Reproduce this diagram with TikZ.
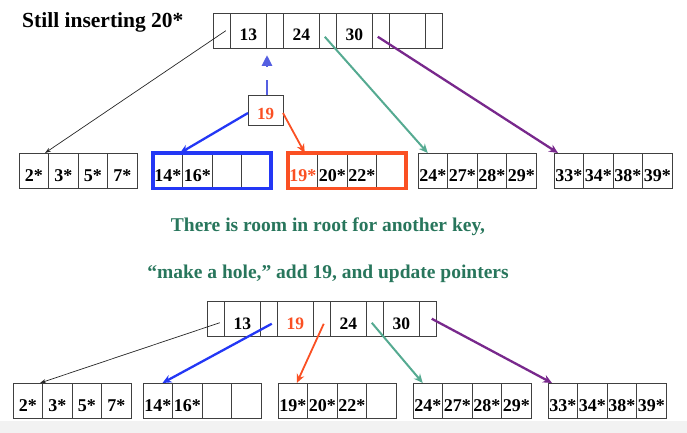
\documentclass[tikz,border=0pt]{standalone}
\usepackage{fontspec}
\setmainfont{Liberation Serif}
\usetikzlibrary{arrows.meta,calc}
\definecolor{kblue}{RGB}{35,55,245}
\definecolor{kred}{RGB}{250,80,35}
\definecolor{kgreen}{RGB}{85,170,145}
\definecolor{kpurple}{RGB}{120,40,140}
\definecolor{ktext}{RGB}{40,118,92}
\definecolor{kdash}{RGB}{85,95,225}
\tikzset{
  cell/.style={draw=black!75, line width=0.8pt, inner sep=0pt, outer sep=0pt,
    text height=28pt, text depth=7.5pt, anchor=north west,
    font=\bfseries\fontsize{18}{18}\selectfont},
  keycell/.style={cell, minimum width=35.5pt, font=\bfseries\fontsize{17.5}{17.5}\selectfont},
  ptrcell/.style={cell, minimum width=17.5pt},
  leafcell/.style={cell, minimum width=29.5pt},
  frame/.style={line width=3.5pt},
  blk/.style={draw=black!85, line width=0.7pt, -{Stealth[length=6pt,width=4pt]}},
  carrow/.style={-{Stealth[length=9pt,width=8pt]}},
  msg/.style={anchor=base, text=ktext, font=\bfseries\fontsize{19.5}{19.5}\selectfont}
}
\newcommand{\mkroot}[4]{%
  \foreach \pj in {1,...,5}{\node[ptrcell] (#1-p\pj) at ({#2+(\pj-1)*53},#3) {};}
  \foreach \lab [count=\ki] in {#4}{\node[keycell] (#1-k\ki) at ({#2+17.5+(\ki-1)*53},#3) {\lab};}
}
\newcommand{\mkleaf}[4]{%
  \foreach \lab [count=\li] in {#4}{\node[leafcell] (#1-\li) at ({#2+(\li-1)*29.5},#3) {\lab};}
}
\begin{document}
\begin{tikzpicture}[x=1pt,y=-1pt]
\useasboundingbox (0,0) rectangle (687,433);
\fill[black!5] (0,421) rectangle (687,433);

\node[anchor=base west, inner sep=0pt, font=\bfseries\fontsize{21.5}{21.5}\selectfont] (title) at (22,28) {Still inserting 20*};

% top root
\mkroot{tr}{213}{13}{13,24,30,{}}
% 19 box
\node[draw=black!75, line width=0.8pt, inner sep=0pt, outer sep=0pt, minimum width=35pt,
  text height=25pt, text depth=5pt, font=\bfseries\fontsize{17}{17}\selectfont] (n19) at (265.5,110) {\textcolor{kred}{19}};

% top leaves
\mkleaf{tl1}{19}{153}{2*,3*,5*,7*}
\mkleaf{tl2}{153}{153}{14*,16*,{},{}}
\mkleaf{tl3}{288}{153}{\textcolor{kred}{19*},20*,22*,{}}
\mkleaf{tl4}{418}{153}{24*,27*,28*,29*}
\mkleaf{tl5}{554}{153}{33*,34*,38*,39*}
\draw[kblue, frame] (tl2-1.north west) rectangle (tl2-4.south east);
\draw[kred, frame] (tl3-1.north west) rectangle (tl3-4.south east);

% top connectors
\coordinate (up) at ($(n19.north)+(1.5,-40)$);
\draw[kdash, line width=2.8pt, dash pattern=on 15pt off 13pt, -{Triangle[length=11pt,width=10pt]}]
  ($(n19.north)+(1.5,0)$) -- (up);
\draw[blk] ($(tr-p1.center)+(4,0)$) -- ($(tl1-1.north east)+(-3.5,0)$);
\draw[kgreen, line width=2pt, carrow] ($(tr-p3.center)+(-3,6)$) -- ($(tl4-1.north)+(-5,0)$);
\draw[kpurple, line width=2.3pt, carrow] ($(tr-p4.center)+(-3,6)$) -- ($(tl5-1.north west)+(4,0)$);
\draw[kblue, line width=2.3pt, carrow] ($(n19.west)+(0,3)$) -- ($(tl2-1.north east)+(-2.5,0)$);
\draw[kred, line width=1.8pt, carrow] ($(n19.east)+(0,3)$) -- ($(tl3-1.north)+(2,0)$);

% messages
\node[msg] (msg1) at (328,231) {There is room in root for another key,};
\node[msg] (msg2) at (328,278) {“make a hole,” add 19, and update pointers};

% lower root
\mkroot{br}{207}{301}{13,\textcolor{kred}{19},24,30}

% lower leaves
\mkleaf{bl1}{13}{383}{2*,3*,5*,7*}
\mkleaf{bl2}{143}{383}{14*,16*,{},{}}
\mkleaf{bl3}{278}{383}{19*,20*,22*,{}}
\mkleaf{bl4}{413}{383}{24*,27*,28*,29*}
\mkleaf{bl5}{548}{383}{33*,34*,38*,39*}

% lower connectors
\draw[blk] ($(br-p1.center)+(4,4)$) -- ($(bl1-1.north east)+(-2.5,0)$);
\draw[kblue, line width=2.3pt, carrow] ($(br-p2.center)+(3,5)$) -- ($(bl2-1.north east)+(-10,0)$);
\draw[kred, line width=1.8pt, carrow] ($(br-p3.center)+(2,5)$) -- ($(bl3-1.north)+(4,0)$);
\draw[kgreen, line width=2pt, carrow] ($(br-p4.center)+(-3,4)$) -- ($(bl4-1.north)+(-5,0)$);
\draw[kpurple, line width=2.3pt, carrow] ($(br-p5.center)+(4,0)$) -- ($(bl5-1.north west)+(4,0)$);
\end{tikzpicture}
\end{document}
